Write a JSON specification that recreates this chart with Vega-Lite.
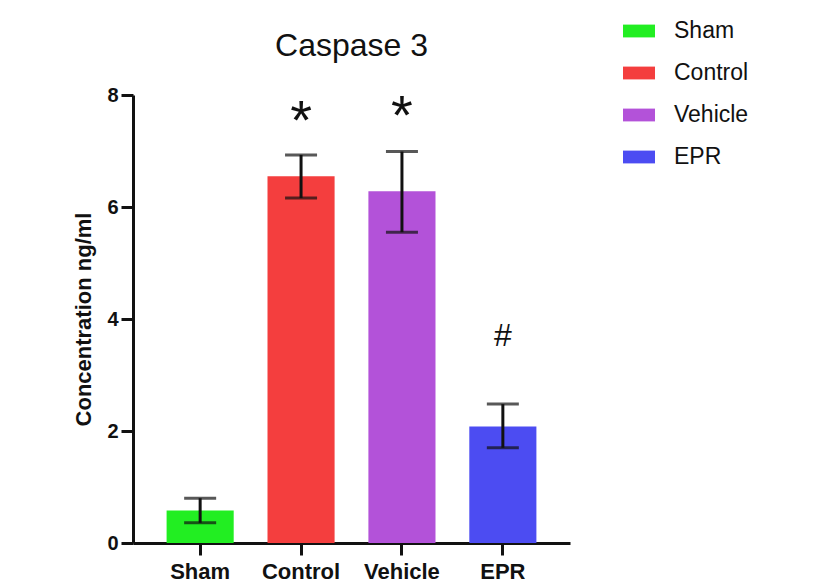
{
  "$schema": "https://vega.github.io/schema/vega-lite/v6.json",
  "autosize": "none",
  "width": 437,
  "height": 448,
  "padding": {"left": 133, "top": 95, "right": 255, "bottom": 44},
  "background": "white",
  "title": {
    "text": "Caspase 3",
    "font": "Liberation Sans",
    "fontSize": 32,
    "fontWeight": "normal",
    "color": "#111111",
    "anchor": "middle",
    "frame": "group",
    "baseline": "alphabetic",
    "offset": 0,
    "dy": 73
  },
  "data": {
    "values": [
      {"group": "Sham", "mean": 0.58, "lo": 0.36, "hi": 0.8, "sig": "", "sigY": 0},
      {"group": "Control", "mean": 6.55, "lo": 6.16, "hi": 6.93, "sig": "*", "sigY": 7.21},
      {"group": "Vehicle", "mean": 6.28, "lo": 5.55, "hi": 6.99, "sig": "*", "sigY": 7.3},
      {"group": "EPR", "mean": 2.08, "lo": 1.7, "hi": 2.48, "sig": "#", "sigY": 3.52}
    ]
  },
  "encoding": {
    "x": {
      "field": "group",
      "type": "nominal",
      "sort": ["Sham", "Control", "Vehicle", "EPR"],
      "scale": {"paddingInner": 0.335, "paddingOuter": 0.333},
      "axis": {
        "title": null,
        "labelAngle": 0,
        "labelFont": "Liberation Sans",
        "labelFontSize": 22,
        "labelFontWeight": "bold",
        "labelColor": "#111111",
        "labelPadding": 6,
        "domainColor": "#111111",
        "domainWidth": 3,
        "tickColor": "#111111",
        "tickWidth": 3,
        "tickSize": 12
      }
    }
  },
  "layer": [
    {
      "mark": {"type": "bar"},
      "encoding": {
        "y": {
          "field": "mean",
          "type": "quantitative",
          "scale": {"domain": [0, 8], "nice": false},
          "axis": {
            "title": "Concentration ng/ml",
            "titleFont": "Liberation Sans",
            "titleFontSize": 22,
            "titleFontWeight": "bold",
            "titleColor": "#111111",
            "titlePadding": 11,
            "values": [0, 2, 4, 6, 8],
            "format": "d",
            "grid": false,
            "labelFont": "Liberation Sans",
            "labelFontSize": 20,
            "labelFontWeight": "bold",
            "labelColor": "#111111",
            "labelPadding": 3,
            "domainColor": "#111111",
            "domainWidth": 3,
            "tickColor": "#111111",
            "tickWidth": 3,
            "tickSize": 12
          }
        },
        "color": {
          "field": "group",
          "type": "nominal",
          "scale": {
            "domain": ["Sham", "Control", "Vehicle", "EPR"],
            "range": ["#22EE22", "#F43E3E", "#B352D9", "#4C4CF2"]
          },
          "legend": {
            "title": null,
            "orient": "none",
            "legendX": 490,
            "legendY": -80,
            "symbolType": "M-1,-0.4L1,-0.4L1,0.4L-1,0.4Z",
            "symbolSize": 1024,
            "symbolStrokeWidth": 0,
            "symbolOpacity": 1,
            "labelFont": "Liberation Sans",
            "labelFontSize": 23,
            "labelColor": "#111111",
            "labelOffset": 19,
            "rowPadding": 14
          }
        }
      }
    },
    {
      "mark": {"type": "rule", "strokeWidth": 3, "color": "#111111"},
      "encoding": {
        "y": {"field": "lo", "type": "quantitative"},
        "y2": {"field": "hi"}
      }
    },
    {
      "mark": {"type": "tick", "thickness": 3, "size": 32, "color": "#111111"},
      "encoding": {"y": {"field": "hi", "type": "quantitative"}}
    },
    {
      "mark": {"type": "tick", "thickness": 3, "size": 32, "color": "#111111"},
      "encoding": {"y": {"field": "lo", "type": "quantitative"}}
    },
    {
      "transform": [{"filter": "datum.sig === '*'"}],
      "mark": {"type": "text", "font": "Liberation Sans", "fontSize": 56, "baseline": "alphabetic", "color": "#111111"},
      "encoding": {
        "y": {"field": "sigY", "type": "quantitative"},
        "text": {"field": "sig"}
      }
    },
    {
      "transform": [{"filter": "datum.sig === '#'"}],
      "mark": {"type": "text", "font": "Liberation Sans", "fontSize": 32, "baseline": "alphabetic", "color": "#111111"},
      "encoding": {
        "y": {"field": "sigY", "type": "quantitative"},
        "text": {"field": "sig"}
      }
    }
  ],
  "config": {"view": {"stroke": null}}
}
